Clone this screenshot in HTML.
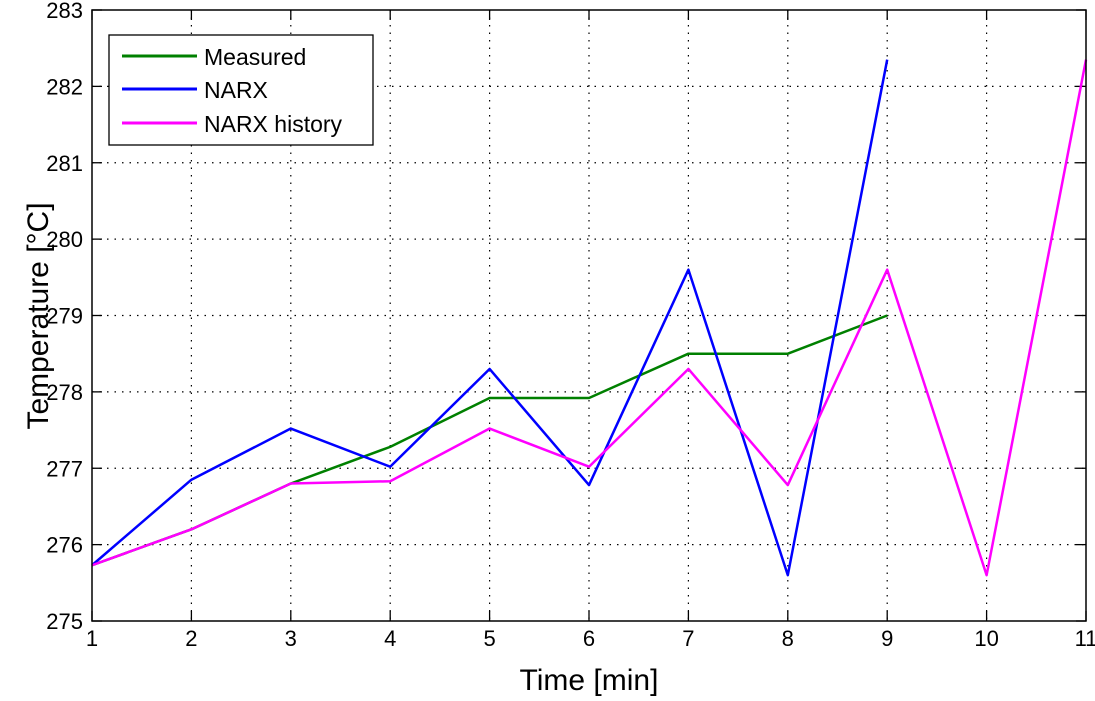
<!DOCTYPE html>
<html><head><meta charset="utf-8"><style>
body{margin:0;background:#fff}
svg text{font-family:"Liberation Sans",sans-serif}
</style></head><body>
<svg id="chart" width="1095" height="696" xmlns="http://www.w3.org/2000/svg">
<rect width="1095" height="696" fill="#fff"/>
<g id="grid"></g>
<g id="ticks"></g>
<g id="series"></g>
<rect x="92" y="10" width="994" height="611" fill="none" stroke="#000" stroke-width="1.5"/>
<text x="589" y="690" font-size="30" text-anchor="middle">Time [min]</text>
<text transform="translate(48,316) rotate(-90)" font-size="30" text-anchor="middle">Temperature [°C]</text>
<g>
<rect x="109" y="35" width="264" height="110" fill="#fff" stroke="#000" stroke-width="1.3"/>
<line x1="122" y1="56" x2="197" y2="56" stroke="#008000" stroke-width="3"/>
<text x="204" y="65" font-size="23">Measured</text>
<line x1="122" y1="89" x2="197" y2="89" stroke="#0000ff" stroke-width="3"/>
<text x="204" y="98" font-size="23">NARX</text>
<line x1="122" y1="123" x2="197" y2="123" stroke="#ff00ff" stroke-width="3"/>
<text x="204" y="132" font-size="23">NARX history</text>
</g>
</svg>
<script>
const xTicks=[1,2,3,4,5,6,7,8,9,10,11];
const yTicks=[275,276,277,278,279,280,281,282,283];
const measuredX=[1,2,3,4,5,6,7,8,9];
const measuredY=[275.73,276.2,276.8,277.28,277.92,277.92,278.5,278.5,279.0];
const narxX=[1,2,3,4,5,6,7,8,9];
const narxY=[275.73,276.85,277.52,277.02,278.3,276.78,279.6,275.6,282.35];
const histX=[1,2,3,4,5,6,7,8,9,10,11];
const histY=[275.73,276.2,276.8,276.83,277.52,277.02,278.3,276.78,279.6,275.6,282.35];
const X0=92,X1=1086,Y0=621,Y1=10;
const sx=v=>X0+(v-1)/(11-1)*(X1-X0);
const sy=v=>Y0-(v-275)/(283-275)*(Y0-Y1);
const NS="http://www.w3.org/2000/svg";
const grid=document.getElementById('grid'),ticks=document.getElementById('ticks'),series=document.getElementById('series');
function mk(tag,attrs,parent){const e=document.createElementNS(NS,tag);for(const k in attrs)e.setAttribute(k,attrs[k]);parent.appendChild(e);return e;}
xTicks.forEach(t=>{const x=sx(t);
 if(t>1&&t<11){const g=mk('line',{x1:x,y1:Y1,x2:x,y2:Y0,stroke:'#000','stroke-width':1.2,'stroke-dasharray':'1.5 6'},grid);
 
 }
 const tk=mk('line',{x1:x,y1:Y0,x2:x,y2:Y0-10,stroke:'#000','stroke-width':1.3},ticks);
 
 
 const tt=mk('line',{x1:x,y1:Y1,x2:x,y2:Y1+10,stroke:'#000','stroke-width':1.3},ticks);
 
 
 const l=mk('text',{x:x,y:646,'font-size':22,'text-anchor':'middle'},ticks);l.textContent=t;
 
 
});
yTicks.forEach(t=>{const y=sy(t);
 if(t>275&&t<283){const g=mk('line',{x1:X0,y1:y,x2:X1,y2:y,stroke:'#000','stroke-width':1.2,'stroke-dasharray':'1.5 6'},grid);
 
 }
 const tk=mk('line',{x1:X0,y1:y,x2:X0+10,y2:y,stroke:'#000','stroke-width':1.3},ticks);
 
 
 const tr=mk('line',{x1:X1,y1:y,x2:X1-10,y2:y,stroke:'#000','stroke-width':1.3},ticks);
 
 
 const l=mk('text',{x:83,y:y+8,'font-size':22,'text-anchor':'end'},ticks);l.textContent=t;
 
 
});
function line(xs,ys,color,name){const p=mk('polyline',{points:xs.map((x,i)=>sx(x)+','+sy(ys[i])).join(' '),fill:'none',stroke:color,'stroke-width':2.5,'stroke-linejoin':'round'},series);
 
 }
line(measuredX,measuredY,'#008000','measured-line');
line(narxX,narxY,'#0000ff','narx-line');
line(histX,histY,'#ff00ff','narx-history-line');
</script>
</body></html>
